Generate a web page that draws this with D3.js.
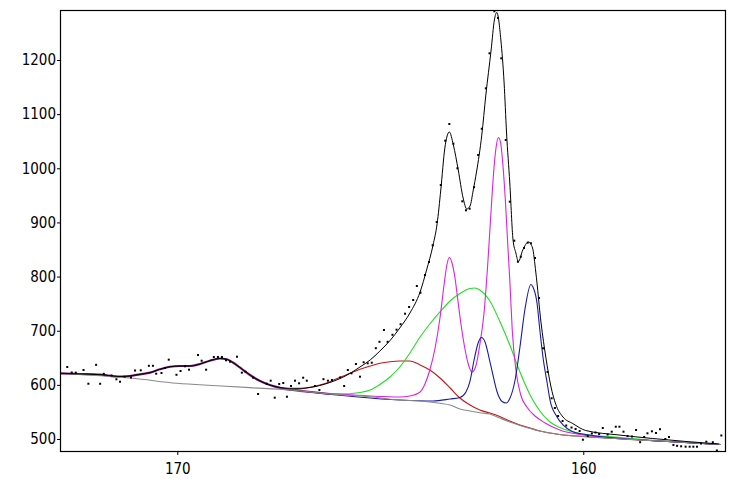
<!DOCTYPE html>
<html>
<head>
<meta charset="utf-8">
<script src="https://cdn.jsdelivr.net/npm/d3@7"></script>
<style>
  html, body { margin: 0; padding: 0; background: #fff; }
  svg { display: block; }
  .tick text { font-family: 'DejaVu Sans Condensed', 'Liberation Sans', sans-serif; font-size: 15px; fill: #000; }
</style>
</head>
<body>
<svg id="chart" width="736" height="479"></svg>
<script>
// ---- Data (binding energy eV, counts) ----
const xTicks = [170, 160];
const yTicks = [500, 600, 700, 800, 900, 1000, 1100, 1200];

const dataEnergy = [172.71,172.60,172.50,172.31,172.19,172.00,171.90,171.81,171.62,171.50,171.41,171.30,171.14,171.04,170.90,170.70,170.60,170.52,170.39,170.30,170.21,170.02,169.92,169.81,169.71,169.49,169.40,169.29,169.10,169.00,168.90,168.80,168.70,168.53,168.41,168.32,168.13,168.01,167.80,167.70,167.60,167.49,167.39,167.30,167.20,167.10,167.00,166.90,166.81,166.61,166.50,166.40,166.29,166.19,165.99,165.89,165.80,165.71,165.60,165.50,165.41,165.31,165.21,165.11,165.02,164.91,164.82,164.70,164.60,164.50,164.39,164.29,164.19,164.10,164.01,163.90,163.80,163.71,163.61,163.51,163.40,163.30,163.20,163.10,162.98,162.89,162.80,162.69,162.59,162.50,162.40,162.31,162.19,162.10,162.02,161.91,161.81,161.70,161.61,161.54,161.46,161.37,161.29,161.19,161.09,160.99,160.88,160.78,160.70,160.62,160.51,160.42,160.29,160.19,160.09,160.01,159.89,159.79,159.70,159.61,159.52,159.40,159.30,159.20,159.11,159.01,158.91,158.80,158.70,158.60,158.50,158.42,158.31,158.21,158.11,157.98,157.89,157.78,157.69,157.59,157.48,157.38,157.29,157.20,157.10,156.97,156.81,156.71,156.60];
const dataCounts = [633.0,622.8,622.5,627.4,602.1,637.0,602.0,620.4,617.3,610.3,605.8,615.1,613.6,626.5,626.9,635.2,635.2,620.6,621.9,631.1,646.5,618.6,625.6,634.3,628.0,655.1,644.6,628.0,651.5,651.5,651.5,645.4,642.8,652.0,622.5,624.3,613.2,583.1,602.1,607.7,576.3,601.6,603.4,578.1,597.9,607.7,602.9,613.2,607.7,597.9,590.5,610.5,607.7,609.0,613.6,597.9,627.4,621.3,638.5,615.1,641.7,639.8,640.9,667.7,679.5,701.3,679.5,692.5,701.9,712.0,731.4,743.8,756.7,782.6,770.2,802.9,826.9,857.8,900.8,969.1,1051.0,1081.8,1045.4,1000.0,939.0,922.4,925.4,965.1,1024.5,1073.0,1147.7,1212.4,1290.0,1277.6,1203.1,1052.3,938.3,866.3,827.5,836.7,852.8,862.6,861.5,834.3,760.4,667.5,623.7,575.2,557.3,542.5,533.2,524.9,521.2,518.5,514.8,498.7,505.5,510.2,512.0,509.2,520.3,508.3,513.5,522.7,522.7,513.5,505.5,504.6,516.6,494.1,503.7,510.5,514.2,511.1,518.1,500.0,503.7,488.9,487.4,486.5,485.8,485.8,485.8,485.8,491.6,495.0,494.1,478.8,506.5];

const envelope = [[172.89,621.3],[172.40,620.1],[171.90,618.8],[171.41,615.4],[171.17,616.4],[170.92,619.5],[170.67,622.5],[170.43,628.7],[170.18,633.5],[169.93,634.8],[169.69,634.8],[169.44,638.5],[169.20,644.6],[168.95,648.7],[168.78,647.2],[168.63,641.3],[168.46,632.1],[168.21,618.2],[167.96,607.1],[167.72,599.7],[167.47,595.1],[167.23,593.6],[166.98,593.6],[166.73,595.1],[166.49,598.8],[166.24,604.4],[165.99,611.7],[165.75,621.0],[165.50,633.0],[165.25,645.9],[165.01,662.5],[164.76,681.9],[164.52,705.0],[164.27,732.7],[164.02,771.5],[163.86,812.1],[163.70,858.3],[163.60,897.7],[163.51,959.9],[163.41,1037.5],[163.30,1067.0],[163.20,1043.0],[163.08,996.8],[162.96,945.1],[162.87,924.8],[162.79,930.3],[162.71,959.9],[162.63,993.1],[162.50,1061.4],[162.40,1135.4],[162.27,1218.5],[162.19,1273.9],[162.13,1287.8],[162.03,1237.0],[161.95,1157.5],[161.89,1065.2],[161.81,972.8],[161.73,867.5],[161.66,843.5],[161.60,827.5],[161.49,849.1],[161.35,863.9],[161.25,852.8],[161.17,808.4],[161.04,714.3],[160.92,649.6],[160.80,597.9],[160.68,564.6],[160.50,540.6],[160.26,528.6],[159.94,515.7],[159.12,507.4],[158.29,500.9],[157.47,495.4],[156.66,490.8]];

const background = [[172.89,621.3],[171.90,616.9],[171.09,612.1],[170.01,602.9],[169.02,598.4],[168.21,594.8],[167.23,590.5],[166.24,583.1],[165.25,578.1],[164.52,572.0],[164.02,570.2],[163.53,565.9],[163.28,562.8],[163.04,555.4],[162.79,551.7],[162.55,548.6],[162.30,546.2],[162.06,538.8],[161.81,531.4],[161.56,524.9],[161.31,519.4],[161.07,514.8],[160.82,511.1],[160.58,508.3],[160.01,504.6],[158.36,497.2],[156.61,489.8]];

const compS2p = [[172.89,621.3],[172.40,620.1],[171.90,618.8],[171.41,615.4],[171.17,616.4],[170.92,619.5],[170.67,622.5],[170.43,628.7],[170.18,633.5],[169.93,634.8],[169.69,634.8],[169.44,638.5],[169.20,644.6],[168.95,648.7],[168.78,647.2],[168.63,641.3],[168.46,632.1],[168.21,618.2],[167.96,607.1],[167.72,599.7],[167.47,594.5],[167.23,591.0],[166.98,589.0],[166.24,583.1]];

const compRed = [[167.23,590.5],[166.98,592.4],[166.73,595.5],[166.49,599.7],[166.24,605.8],[165.99,614.0],[165.75,621.3],[165.50,628.7],[165.25,634.8],[165.01,639.8],[164.76,642.8],[164.52,644.1],[164.27,644.1],[164.02,636.7],[163.78,627.4],[163.53,612.7],[163.28,594.2],[163.04,575.7],[162.79,562.8],[162.55,553.6],[162.30,548.0],[162.06,541.6],[161.81,533.2],[161.56,525.9],[161.31,520.3],[161.07,514.8],[160.58,508.3],[160.01,504.6],[158.36,497.2],[156.61,489.8]];

const compGreen = [[166.49,585.0],[165.99,583.1],[165.50,585.9],[165.25,590.5],[165.01,600.7],[164.76,614.5],[164.52,633.0],[164.27,658.8],[164.02,688.4],[163.78,712.4],[163.53,734.6],[163.28,754.9],[163.04,768.7],[162.79,778.0],[162.67,778.9],[162.55,775.2],[162.30,754.9],[162.06,717.9],[161.81,673.6],[161.56,623.7],[161.31,581.3],[161.07,551.7],[160.82,531.4],[160.58,521.2],[160.33,514.8],[160.01,509.2],[159.10,502.8],[158.36,498.2],[156.61,489.8]];

const compMagenta = [[166.24,584.0],[165.25,579.4],[164.52,577.6],[164.27,579.4],[164.02,586.8],[163.90,601.6],[163.78,627.4],[163.65,668.1],[163.53,723.5],[163.43,784.4],[163.36,821.4],[163.30,835.2],[163.24,826.9],[163.16,797.4],[163.09,756.7],[163.01,710.6],[162.91,664.4],[162.84,640.4],[162.74,623.7],[162.64,636.7],[162.55,673.6],[162.45,729.0],[162.35,826.9],[162.27,923.0],[162.20,1000.5],[162.15,1037.5],[162.09,1056.9],[162.04,1048.6],[161.98,1006.1],[161.92,941.4],[161.86,858.3],[161.81,793.7],[161.75,701.3],[161.66,627.4],[161.54,581.3],[161.39,559.1],[161.19,542.5],[160.94,529.6],[160.58,516.6],[160.01,507.4],[158.36,497.2],[156.61,489.8]];

const compBlue = [[166.98,588.7],[164.52,572.0],[163.70,570.2],[163.28,573.9],[163.04,576.7],[162.89,586.8],[162.79,607.1],[162.69,645.9],[162.59,677.3],[162.51,687.5],[162.42,679.2],[162.32,649.6],[162.22,616.4],[162.13,588.7],[162.00,569.3],[161.90,566.5],[161.81,574.8],[161.68,609.0],[161.56,669.9],[161.44,738.3],[161.29,785.4],[161.24,780.7],[161.14,751.2],[161.07,701.3],[160.99,649.6],[160.89,603.4],[160.82,572.0],[160.65,541.2],[160.50,525.9],[160.26,513.5],[159.94,508.3],[159.12,501.3],[158.36,497.2],[156.61,489.8]];

// ---- Chart ----
const W = 736, H = 479;
const plot = { left: 60, right: 726, top: 10, bottom: 451 };

const x = d3.scaleLinear().domain([172.889, 156.485]).range([plot.left, plot.right]);
const y = d3.scaleLinear().domain([477.84, 1292.35]).range([plot.bottom, plot.top]);

const svg = d3.select('#chart');
const g = svg.append('g');

const line = d3.line()
  .x(d => x(d[0]))
  .y(d => y(d[1]))
  .curve(d3.curveMonotoneX);

const clip = svg.append('defs').append('clipPath').attr('id', 'clip')
  .append('rect').attr('x', plot.left).attr('y', plot.top)
  .attr('width', plot.right - plot.left).attr('height', plot.bottom - plot.top);

const layer = g.append('g').attr('clip-path', 'url(#clip)');

const comps = [
  { d: compRed, c: '#c01818', w: 1.1 },
  { d: compGreen, c: '#22dd22', w: 1.1 },
  { d: compMagenta, c: '#dd22dd', w: 1.1 },
  { d: compBlue, c: '#1a1aa8', w: 1.1 },
  { d: compS2p, c: '#7a1f7a', w: 2.2 }
];
comps.forEach(s => {
  layer.append('path').datum(s.d).attr('d', line)
    .attr('fill', 'none').attr('stroke', s.c).attr('stroke-width', s.w);
});

layer.append('path').datum(background).attr('d', line)
  .attr('fill', 'none').attr('stroke', '#8a8a8a').attr('stroke-width', 1.1);

layer.append('path').datum(envelope).attr('d', line)
  .attr('fill', 'none').attr('stroke', '#000').attr('stroke-width', 1);

const pts = dataEnergy.map((e, i) => [e, dataCounts[i]]);
layer.append('g').selectAll('rect').data(pts).join('rect')
  .attr('x', d => x(d[0]) - 1).attr('y', d => y(d[1]) - 1)
  .attr('width', 2).attr('height', 2).attr('fill', '#000');

// Axes
const yAxis = d3.axisLeft(y).tickValues(yTicks).tickSize(3).tickPadding(1).tickFormat(d3.format('d'));
const xAxis = d3.axisBottom(x).tickValues(xTicks).tickSize(4).tickPadding(8.5).tickFormat(d3.format('d'));

const ya = g.append('g').attr('transform', `translate(${plot.left},0)`).call(yAxis);
const xa = g.append('g').attr('transform', `translate(0,${plot.bottom})`).call(xAxis);
[ya, xa].forEach(a => {
  a.select('.domain').remove();
  a.selectAll('.tick line').attr('stroke', '#000');
});

g.append('rect')
  .attr('x', plot.left + 0.5).attr('y', plot.top + 0.5)
  .attr('width', plot.right - plot.left - 1).attr('height', plot.bottom - plot.top)
  .attr('fill', 'none').attr('stroke', '#000').attr('stroke-width', 1.2);
</script>
</body>
</html>
